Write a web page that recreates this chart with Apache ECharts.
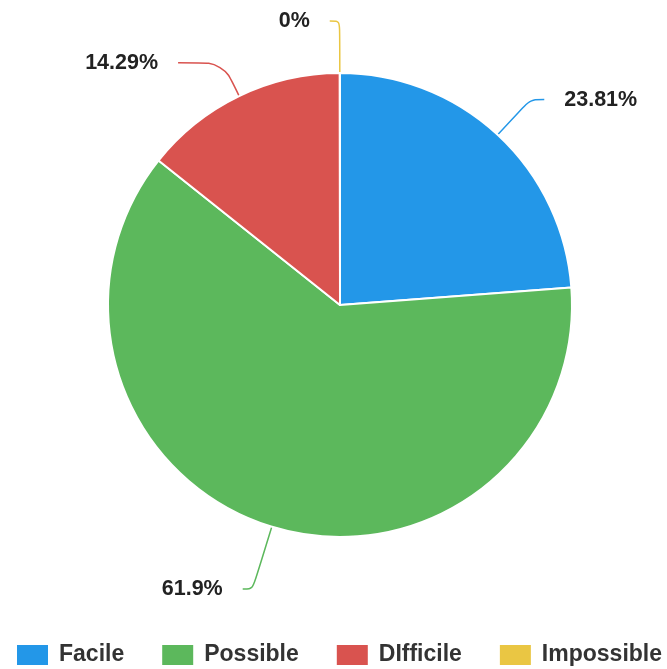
<!DOCTYPE html>
<html>
<head>
<meta charset="utf-8">
<script src="https://cdn.jsdelivr.net/npm/echarts@6/dist/echarts.min.js"></script>
<style>
  html, body { margin: 0; padding: 0; background: #fff; }
  #chart { width: 667px; height: 669px; }
</style>
</head>
<body>
<div id="chart"></div>
<script>
// difficulty answers (counts out of 21)
const categories = ['Facile', 'Possible', 'DIfficile', 'Impossible']
const counts = [5, 13, 3, 0]
const colors = ['#2397e8', '#5cb85c', '#d9534f', '#eac643']

// leader lines are not all the same length in the original
const leaderLines = {
  Facile: { length: 48, length2: 14 },
  Possible: { length: 65, length2: 10 },
  DIfficile: { length: 37, length2: 45 },
  Impossible: { length: 52, length2: 10 },
}

const chart = echarts.init(document.getElementById('chart'))

const pieData = categories.map((name, i) => ({
  name,
  value: counts[i],
  labelLine: leaderLines[name],
}))

const option = {
  animation: false,
  color: colors,
  legend: {
    data: categories,
    top: 643,
    left: 15,
    padding: 0,
    width: 660,
    itemWidth: 33,
    itemHeight: 22,
    itemGap: 36,
    icon: 'rect',
    textStyle: {
      fontFamily: 'Liberation Sans',
      fontWeight: 'bold',
      fontSize: 23,
      color: '#333',
      padding: [0, 0, 0, 5],
    },
  },
  series: [
    {
      type: 'pie',
      center: [340, 305],
      radius: 232,
      // a hair past 12 o'clock so the empty slice labels on the left
      startAngle: 90.05,
      clockwise: true,
      data: pieData,
      itemStyle: {
        borderColor: '#fff',
        borderWidth: 2,
      },
      label: {
        formatter: '{d}%',
        fontFamily: 'Liberation Sans',
        fontWeight: 'bold',
        fontSize: 21.5,
        color: '#222',
        textBorderColor: '#fff',
        textBorderWidth: 3,
        distanceToLabelLine: 20,
      },
      labelLine: {
        show: true,
        smooth: true,
        lineStyle: { width: 1.5 },
      },
    },
  ],
}

chart.setOption(option)
</script>
</body>
</html>
